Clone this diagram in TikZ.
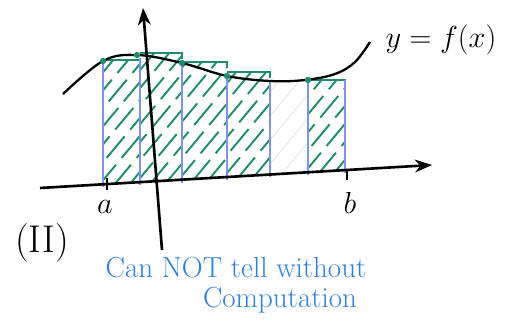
\documentclass[tikz,border=0pt]{standalone}
\usepackage{tikz}
\usetikzlibrary{arrows.meta}
\definecolor{hatchgreen}{HTML}{1E8C6E}
\definecolor{partblue}{HTML}{8093E8}
\definecolor{noteblue}{HTML}{2F7FE0}
\tikzset{
  axisline/.style={line width=1.5pt,black},
  hatchline/.style={line width=1.1pt,hatchgreen,dash pattern=on 16pt off 5pt},
  faintline/.style={line width=0.4pt,partblue!30},
  partline/.style={line width=0.8pt,partblue},
  topline/.style={line width=1.6pt,hatchgreen},
  label/.style={font=\fontsize{18}{22}\selectfont},
  note/.style={noteblue,inner sep=0pt,font=\fontsize{16.5}{20}\selectfont}
}
\begin{document}
\begin{tikzpicture}[x=0.02cm,y=-0.02cm,>=Stealth]
  \useasboundingbox (0,0) rectangle (508,321);
  % axis ends
  \coordinate (xl) at (40,188);
  \coordinate (xr) at (432,165);
  \coordinate (yb) at (162,250);
  \coordinate (yt) at (143,8);
  % hatched rectangles: left, right, top
  \foreach \xa/\xb/\tp in {103/140/60,140/182/53,182/227/62,227/270/72,308/345/80}{
    \pgfmathsetmacro{\ba}{188-0.0587*(\xa-40)}
    \pgfmathsetmacro{\bb}{188-0.0587*(\xb-40)}
    \begin{scope}
      \clip (\xa,\tp) -- (\xb,\tp) -- (\xb,\bb) -- (\xa,\ba) -- cycle;
      \foreach \k in {0,...,11}
        \draw[hatchline] (\xa-110+\k*15,\ba+2) -- ++(110,-132);
    \end{scope}
    \draw[topline] (\xa,\tp) -- (\xb,\tp) -- (\xb,\tp+6);
  }
  % unhatched strip
  \begin{scope}
    \clip (270,80) -- (308,80) -- (308,172.3) -- (270,174.5) -- cycle;
    \foreach \k in {0,...,8}
      \draw[faintline] (160+\k*20,176) -- ++(110,-132);
  \end{scope}
  % partition lines
  \foreach \xp/\tp in {103/61,140/58,182/63,227/76,270/80,308/80,345/80}{
    \pgfmathsetmacro{\bp}{191-0.0587*(\xp-40)}
    \draw[partline] (\xp,\tp) -- (\xp,\bp);
  }
  % curve
  \draw[line width=1.3pt] plot[smooth,tension=0.6] coordinates
    {(63,94) (103,61) (137,55) (182,63) (227,76) (270,81) (305,80) (335,74) (355,62) (370,42)};
  \foreach \xd/\yd in {103/61,137/55,182/63,227/76,308/80}
    \fill[hatchgreen] (\xd,\yd) circle (3.2);
  % axes
  \draw[axisline,->] (xl) -- (xr);
  \draw[axisline,->] (yb) -- (yt);
  \draw[line width=1.3pt] (107,178) -- (107,190);
  \draw[line width=1.3pt] (347,169) -- (347,180);
  % labels
  \node[label] (fx) at (441,40) {$y=f(x)$};
  \node[label] (a) at (105,207) {$a$};
  \node[label] (b) at (350,203) {$b$};
  \node[font=\fontsize{22}{26}\selectfont] (num) at (42,243) {(II)};
  \node[note] (note1) at (236,268) {Can NOT tell without};
  \node[note] (note2) at (280,300) {Computation};
\end{tikzpicture}
\end{document}
